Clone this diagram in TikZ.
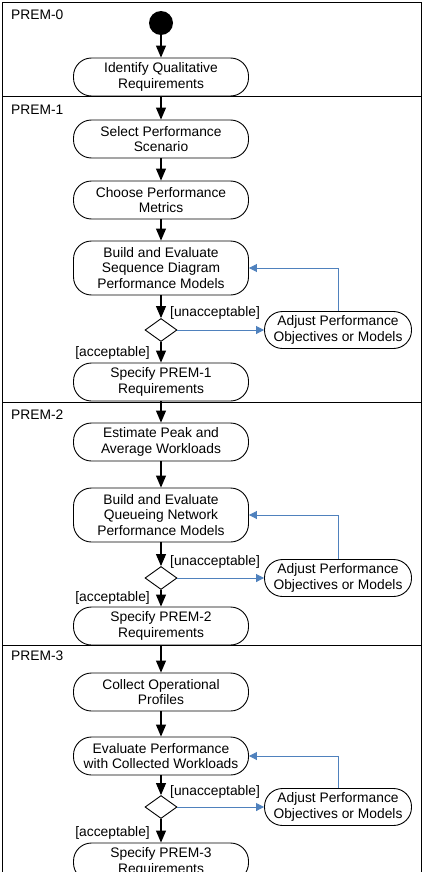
\documentclass[tikz,border=0pt]{standalone}
\usepackage{fontspec}
\setmainfont{Liberation Sans}
\usetikzlibrary{shapes.geometric,arrows.meta}
\definecolor{linkblue}{RGB}{79,129,189}
\tikzset{
  actbox/.style={draw, line width=0.9pt, rounded corners=18pt, minimum width=175pt,
    minimum height=38pt, inner sep=0pt, align=center, font=\fontsize{13.8}{15.7}\selectfont},
  fixbox/.style={actbox, minimum width=147pt, minimum height=37pt},
  decbox/.style={draw, diamond, line width=0.9pt, minimum width=32pt, minimum height=23pt, inner sep=0pt},
  guardtxt/.style={inner sep=0pt, font=\fontsize{13.8}{15.7}\selectfont},
  lanetxt/.style={anchor=west, inner sep=0pt, font=\fontsize{13.8}{15.7}\selectfont},
  flowarr/.style={line width=1.1pt, -{Triangle[length=12pt,width=10pt]}},
  retryarr/.style={line width=0.9pt, draw=linkblue, -{Triangle[length=8pt,width=8pt,fill=linkblue]}}
}
\begin{document}
\begin{tikzpicture}[x=1pt,y=-1pt]
\useasboundingbox (0,0) rectangle (426,872);
\clip (0,0) rectangle (426,872);
% swimlanes
\draw[line width=0.9pt] (2,2) rectangle (421,900);
\draw[line width=0.9pt] (2,96) -- (421,96);
\draw[line width=0.9pt] (2,402) -- (421,402);
\draw[line width=0.9pt] (2,645) -- (421,645);
\node[lanetxt] (lane0) at (11,15) {PREM-0};
\node[lanetxt] (lane1) at (11,110) {PREM-1};
\node[lanetxt] (lane2) at (11,415) {PREM-2};
\node[lanetxt] (lane3) at (11,656) {PREM-3};
% PREM-0
\node[circle, fill=black, minimum size=24pt, inner sep=0pt] (start) at (161,23) {};
\node[actbox] (identify) at (161,77) {Identify Qualitative\\Requirements};
% PREM-1
\node[actbox] (select) at (161,139) {Select Performance\\Scenario};
\node[actbox] (choose) at (161,200) {Choose Performance\\Metrics};
\node[actbox, minimum height=54pt] (buildseq) at (161,268) {Build and Evaluate\\Sequence Diagram\\Performance Models};
\node[decbox] (dec1) at (161,330) {};
\node[fixbox] (adjust1) at (338,330) {Adjust Performance\\Objectives or Models};
\node[guardtxt, anchor=west] (unacc1) at (170,313) {[unacceptable]};
\node[guardtxt, anchor=east] (acc1) at (150,353) {[acceptable]};
\node[actbox] (spec1) at (161,382) {Specify PREM-1\\Requirements};
% PREM-2
\node[actbox] (estimate) at (161,442) {Estimate Peak and\\Average Workloads};
\node[actbox, minimum height=54pt] (buildqn) at (161,515) {Build and Evaluate\\Queueing Network\\Performance Models};
\node[decbox] (dec2) at (161,578) {};
\node[fixbox] (adjust2) at (338,578) {Adjust Performance\\Objectives or Models};
\node[guardtxt, anchor=west] (unacc2) at (170,562) {[unacceptable]};
\node[guardtxt, anchor=east] (acc2) at (150,598) {[acceptable]};
\node[actbox] (spec2) at (161,626) {Specify PREM-2\\Requirements};
% PREM-3
\node[actbox] (collect) at (161,692) {Collect Operational\\Profiles};
\node[actbox] (evaluate) at (161,756) {Evaluate Performance\\with Collected Workloads};
\node[decbox] (dec3) at (161,807) {};
\node[fixbox] (adjust3) at (338,807) {Adjust Performance\\Objectives or Models};
\node[guardtxt, anchor=west] (unacc3) at (170,792) {[unacceptable]};
\node[guardtxt, anchor=east] (acc3) at (150,833) {[acceptable]};
\node[actbox] (spec3) at (161,862) {Specify PREM-3\\Requirements};
% control flow
\draw[flowarr] (start) -- (identify);
\draw[flowarr] (identify) -- (select);
\draw[flowarr] (select) -- (choose);
\draw[flowarr] (choose) -- (buildseq);
\draw[flowarr] (buildseq) -- (dec1);
\draw[flowarr] (dec1) -- (spec1);
\draw[flowarr] (spec1) -- (estimate);
\draw[flowarr] (estimate) -- (buildqn);
\draw[flowarr] (buildqn) -- (dec2);
\draw[flowarr] (dec2) -- (spec2);
\draw[flowarr] (spec2) -- (collect);
\draw[flowarr] (collect) -- (evaluate);
\draw[flowarr] (evaluate) -- (dec3);
\draw[flowarr] (dec3) -- (spec3);
% rework loops
\draw[retryarr] (dec1.east) -- (adjust1.west);
\draw[retryarr] (adjust1.north) |- (buildseq.east);
\draw[retryarr] (dec2.east) -- (adjust2.west);
\draw[retryarr] (adjust2.north) |- (buildqn.east);
\draw[retryarr] (dec3.east) -- (adjust3.west);
\draw[retryarr] (adjust3.north) |- (evaluate.east);
\end{tikzpicture}
\end{document}
